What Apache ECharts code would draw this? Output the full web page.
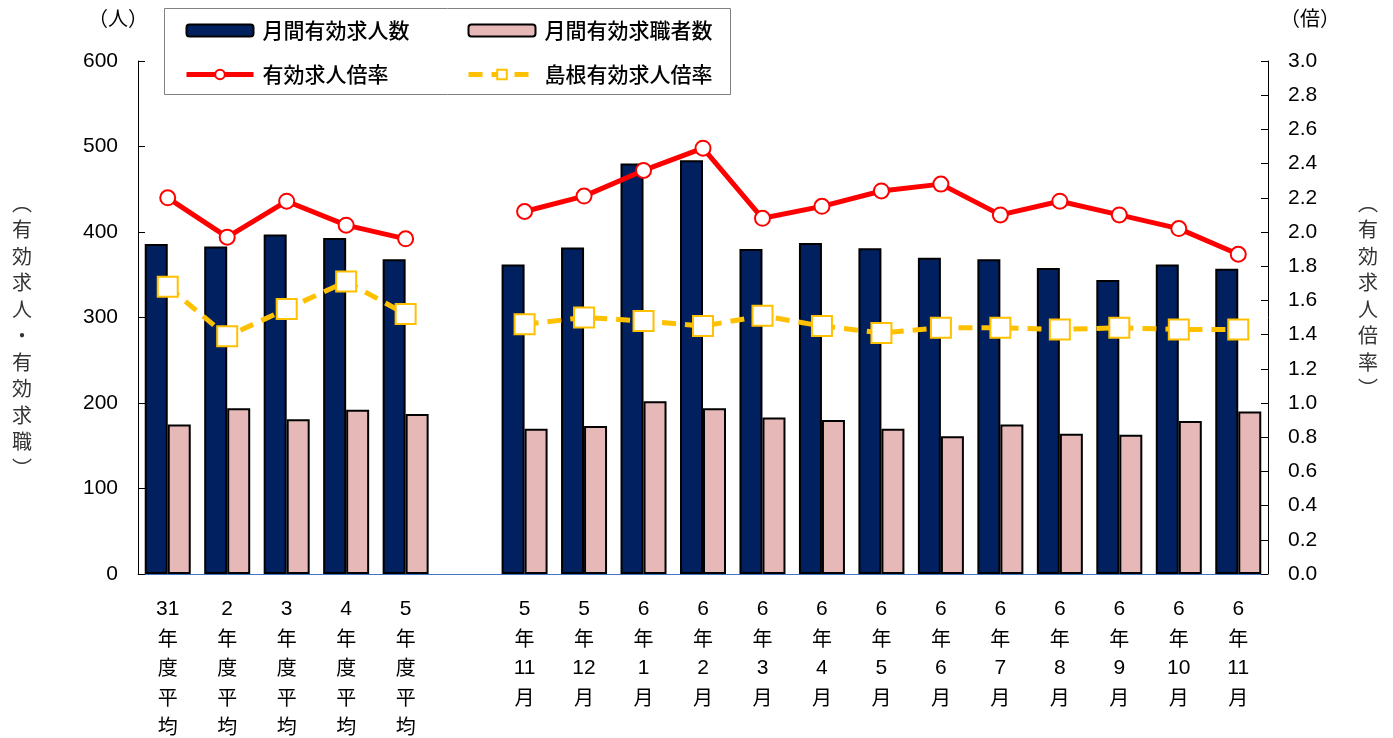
<!DOCTYPE html>
<html>
<head>
<meta charset="utf-8">
<script src="https://cdn.jsdelivr.net/npm/echarts@6/dist/echarts.min.js"></script>
<style>
  html, body { margin: 0; padding: 0; background: #fff; }
  #chart { width: 1393px; height: 738px; }
</style>
</head>
<body>
<div id="chart"></div>
<script>
// 区分（空欄は年度平均と月次の間の区切り）
var categories = ['31年度平均', '2年度平均', '3年度平均', '4年度平均', '5年度平均', '',
  '5年11月', '5年12月', '6年1月', '6年2月', '6年3月', '6年4月', '6年5月',
  '6年6月', '6年7月', '6年8月', '6年9月', '6年10月', '6年11月'];

var kyujinSu = [386, 383, 397, 393, 368, '-',
  362, 382, 480, 484, 380, 387, 381, 370, 368, 358, 344, 362, 357];
var kyushokuSu = [175, 194, 181, 192, 187, '-',
  170, 173, 202, 194, 183, 180, 170, 161, 175, 164, 163, 179, 190];
var bairitsu = [2.20, 1.97, 2.18, 2.04, 1.96, '-',
  2.12, 2.21, 2.36, 2.49, 2.08, 2.15, 2.24, 2.28, 2.10, 2.18, 2.10, 2.02, 1.87];
var shimaneBairitsu = [1.68, 1.39, 1.55, 1.71, 1.52, '-',
  1.46, 1.50, 1.48, 1.45, 1.51, 1.45, 1.41, 1.44, 1.44, 1.43, 1.44, 1.43, 1.43];

var FONT = '"Noto Sans CJK JP", "Liberation Sans", sans-serif';
var NUM_FONT = '"Liberation Sans", sans-serif';

var chart = echarts.init(document.getElementById('chart'));

var legendText = { fontFamily: FONT, fontSize: 21, fontWeight: 500, color: '#000', padding: [0, 0, 0, 4] };

var option = {
  backgroundColor: '#fff',
  textStyle: { fontFamily: FONT, color: '#000' },
  animation: false,
  grid: { left: 138, right: 125, top: 61, bottom: 164, outerBoundsMode: 'none' },
  legend: [{
    left: 184, top: 20, orient: 'vertical', padding: 0,
    itemWidth: 67, itemHeight: 12, itemGap: 23,
    textStyle: legendText,
    data: [
      { name: '月間有効求人数' },
      { name: '有効求人倍率', lineStyle: { width: 5 } }
    ]
  }, {
    left: 466, top: 20, orient: 'vertical', padding: 0,
    itemWidth: 67, itemHeight: 12, itemGap: 23,
    textStyle: legendText,
    data: [
      { name: '月間有効求職者数' },
      { name: '島根有効求人倍率', lineStyle: { width: 5 } }
    ]
  }],
  graphic: [
    { type: 'rect', z: 0, shape: { x: 164.5, y: 8.5, width: 566, height: 86 },
      style: { fill: '#fff', stroke: '#808080', lineWidth: 1 } },
    { type: 'text', left: 88, top: 8,
      style: { text: '（人）', font: '20px ' + FONT, fill: '#000' } },
    { type: 'text', left: 1280, top: 8,
      style: { text: '（倍）', font: '20px ' + FONT, fill: '#000' } },
    { type: 'text', x: 22, y: 190,
      style: { text: '︵\n有\n効\n求\n人\n・\n有\n効\n求\n職\n︶', font: '20px ' + FONT,
        fill: '#333', align: 'center', lineHeight: 26.5 } },
    { type: 'text', x: 1368, y: 190,
      style: { text: '︵\n有\n効\n求\n人\n倍\n率\n︶', font: '20px ' + FONT,
        fill: '#333', align: 'center', lineHeight: 26.5 } }
  ],
  xAxis: {
    type: 'category',
    data: categories,
    axisLine: { lineStyle: { color: '#4472C4', width: 1 } },
    axisTick: { inside: true, length: 5, lineStyle: { color: '#9DB5E0' } },
    axisLabel: {
      interval: 0, margin: 20, fontSize: 20, lineHeight: 29.5, color: '#000',
      formatter: function (v) {
        return (v.match(/\d+|./g) || []).map(function (s) {
          return /\d/.test(s) ? '{n|' + s + '}' : s;
        }).join('\n');
      },
      rich: {
        n: { fontFamily: NUM_FONT, fontSize: 21, lineHeight: 29.5, color: '#000' }
      }
    }
  },
  yAxis: [{
    type: 'value', min: 0, max: 600, interval: 100,
    splitLine: { show: false },
    axisLine: { show: true, lineStyle: { color: '#000' } },
    axisTick: { show: true, inside: true, length: 7, lineStyle: { color: '#000' } },
    axisLabel: { fontSize: 21, margin: 20, color: '#000', fontFamily: NUM_FONT }
  }, {
    type: 'value', min: 0, max: 3, interval: 0.2,
    splitLine: { show: false },
    axisLine: { show: true, lineStyle: { color: '#000' } },
    axisTick: { show: true, inside: true, length: 7, lineStyle: { color: '#000' } },
    axisLabel: { fontSize: 21, margin: 20, color: '#000', fontFamily: NUM_FONT,
      formatter: function (v) { return v.toFixed(1); } }
  }],
  series: [{
    name: '月間有効求人数', type: 'bar', data: kyujinSu,
    barWidth: 23, barGap: '0%',
    itemStyle: { color: '#002060', borderColor: '#000', borderWidth: 2 }
  }, {
    name: '月間有効求職者数', type: 'bar', data: kyushokuSu,
    barWidth: 23,
    itemStyle: { color: '#E6B8B7', borderColor: '#000', borderWidth: 2 }
  }, {
    name: '有効求人倍率', type: 'line', yAxisIndex: 1, data: bairitsu, z: 5,
    symbol: 'circle', symbolSize: 15,
    lineStyle: { color: '#FF0000', width: 5 },
    itemStyle: { color: '#fff', borderColor: '#FF0000', borderWidth: 2 }
  }, {
    name: '島根有効求人倍率', type: 'line', yAxisIndex: 1, data: shimaneBairitsu, z: 4,
    symbol: 'rect', symbolSize: 20,
    lineStyle: { color: '#FFC000', width: 5, type: [14, 9] },
    itemStyle: { color: '#fff', borderColor: '#FFC000', borderWidth: 2 }
  }]
};

chart.setOption(option);
</script>
</body>
</html>
